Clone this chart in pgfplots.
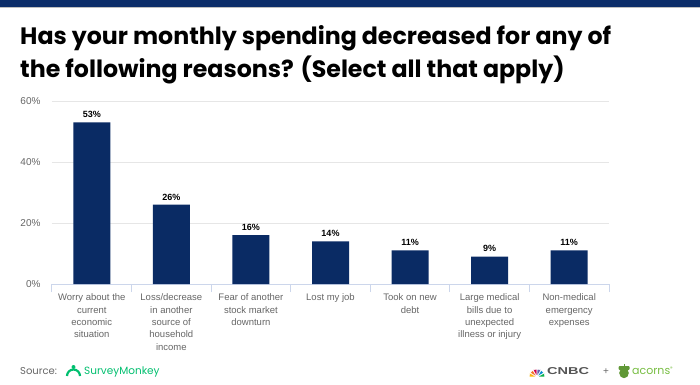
\documentclass[border=0pt]{standalone}
\usepackage{fontspec}
\setmainfont{Liberation Sans}
\newfontfamily\titlefont{Poppins}
\usepackage{graphicx}
\usepackage{pgfplots}
\pgfplotsset{compat=1.18}
\definecolor{navy}{RGB}{10,43,100}
\definecolor{topnavy}{RGB}{12,45,105}
\definecolor{gridc}{HTML}{E6E6E6}
\definecolor{axisc}{HTML}{CCD6EB}
\definecolor{tickc}{HTML}{666666}
\definecolor{smgreen}{HTML}{00BF6F}
\definecolor{acgreen}{HTML}{78BE43}
\definecolor{cnbcgray}{HTML}{555555}
\definecolor{pk1}{HTML}{FCB711}
\definecolor{pk2}{HTML}{F37021}
\definecolor{pk3}{HTML}{CC004C}
\definecolor{pk4}{HTML}{6460AA}
\definecolor{pk5}{HTML}{0089D0}
\definecolor{pk6}{HTML}{0DB14B}
\begin{document}
\begin{tikzpicture}
\path[use as bounding box, fill=white] (0,0) rectangle (700bp,-385bp);
\fill[topnavy] (0,0) rectangle (700bp,-7bp);
\fill[black!25] (0,-7bp) rectangle (700bp,-8bp);
\node[anchor=base west, inner sep=0pt, font=\titlefont\bfseries\fontsize{23.7bp}{28bp}\selectfont] at (20bp,-44bp) {Has your monthly spending decreased for any of};
\node[anchor=base west, inner sep=0pt, font=\titlefont\bfseries\fontsize{23.7bp}{28bp}\selectfont] at (20bp,-77bp) {the following reasons? (Select all that apply)};
\begin{axis}[
 at={(52bp,-284bp)}, anchor=south west, scale only axis,
 width=557bp, height=183bp,
 xmin=-0.5, xmax=6.5, ymin=0, ymax=60,
 ybar, bar width=37bp,
 axis x line*=bottom, axis y line*=left,
 x axis line style={draw=axisc, line width=1bp, -},
 y axis line style={draw=none},
 ytick={0,20,40,60},
 yticklabel={\pgfmathprintnumber{\tick}\%},
 ymajorgrids, grid style={draw=gridc, line width=1bp},
 ytick style={draw=none},
 xtick={0,...,6},
 xticklabels={{Worry about the\\current\\economic\\situation},{Loss/decrease\\in another\\source of\\household\\income},{Fear of another\\stock market\\downturn},{Lost my job},{Took on new\\debt},{Large medical\\bills due to\\unexpected\\illness or injury},{Non-medical\\emergency\\expenses}},
 major x tick style={draw=none},
 minor xtick={-0.5,0.5,...,6.5},
 minor x tick style={draw=axisc, line width=1bp},
 minor tick length=8bp,
 xtick align=outside,
 xticklabel style={font=\fontsize{9.5bp}{12.4bp}\selectfont, text=tickc, align=center, anchor=north, yshift=-2bp},
 yticklabel style={font=\fontsize{10bp}{10bp}\selectfont, text=tickc, xshift=-8bp},
 /pgf/number format/assume math mode=true,
 nodes near coords={\pgfmathprintnumber{\pgfplotspointmeta}\%},
 nodes near coords style={font=\bfseries\fontsize{9bp}{9bp}\selectfont, text=black, yshift=1bp},
 clip=false,
]
\addplot[fill=navy, draw=none] coordinates {(0,53) (1,26) (2,16) (3,14) (4,11) (5,9) (6,11)};
\end{axis}
% footer
\node[anchor=base west, inner sep=0pt, font=\titlefont\fontsize{10bp}{10bp}\selectfont, text=tickc] at (20bp,-374bp) {Source:};
\draw[smgreen, line width=2.2bp] (67bp,-376bp) arc[start angle=180, end angle=0, radius=6.5bp];
\fill[smgreen] (73.5bp,-367bp) circle (2bp);
\node[anchor=base west, inner sep=0pt, font=\titlefont\fontsize{10.5bp}{10.5bp}\selectfont, text=smgreen] at (84bp,-374bp) {SurveyMonkey};
\foreach \a/\c in {165/pk1,135/pk2,105/pk3,75/pk4,45/pk5,15/pk6} {
  \fill[\c, draw=white, line width=0.5bp] (537bp,-377bp) -- ++(\a-13:8bp) arc[start angle=\a-13, end angle=\a+13, radius=8bp] -- cycle;
}
\fill[white] (537bp,-377bp) circle (1.6bp);
\node[anchor=base west, inner sep=0pt, font=\bfseries\fontsize{10bp}{10bp}\selectfont, text=cnbcgray] at (547bp,-374bp) {\scalebox{1.45}[1]{CNBC}};
\node[anchor=base, inner sep=0pt, font=\fontsize{10bp}{10bp}\selectfont, text=tickc] at (606bp,-374bp) {+};
\fill[acgreen!80!black] (624bp,-373bp) ellipse[x radius=4.8bp, y radius=5.2bp];
\fill[acgreen!80!black, rounded corners=1bp] (618.5bp,-370bp) rectangle (629.5bp,-366bp);
\fill[acgreen!80!black] (623.5bp,-366bp) rectangle (624.5bp,-364bp);
\node[anchor=base west, inner sep=0pt, font=\titlefont\fontsize{11bp}{11bp}\selectfont, text=acgreen] at (632bp,-374bp) {acorns\textsuperscript{\tiny ®}};
\end{tikzpicture}
\end{document}
